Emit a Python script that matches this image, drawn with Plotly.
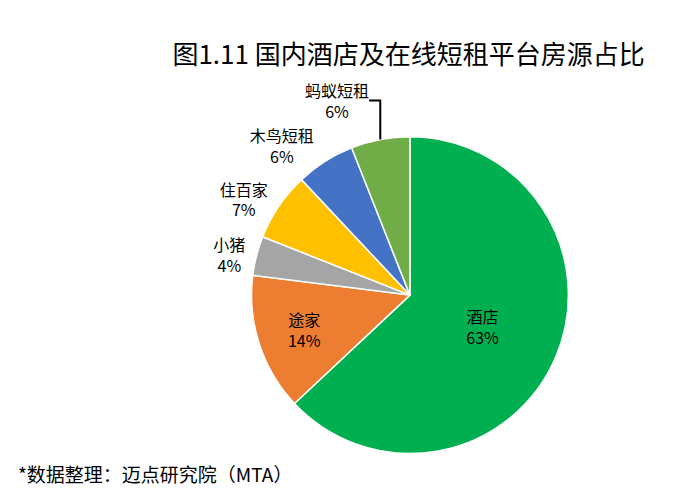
import plotly.graph_objects as go

labels = ["酒店", "途家", "小猪", "住百家", "木鸟短租", "蚂蚁短租"]
values = [63, 14, 4, 7, 6, 6]
colors = ["#00B050", "#ED7D31", "#A5A5A5", "#FFC000", "#4472C4", "#70AD47"]
positions = ["inside", "inside", "outside", "outside", "outside", "outside"]

FONT = "Noto Sans CJK SC"

fig = go.Figure(
    go.Pie(
        labels=labels,
        values=values,
        sort=False,
        direction="clockwise",
        rotation=0,
        marker={"colors": colors, "line": {"color": "white", "width": 1.5}},
        textposition=positions,
        texttemplate="%{label}<br>%{percent:.0%}",
        textfont={"family": FONT, "size": 16, "color": "black"},
        insidetextorientation="horizontal",
        hoverinfo="label+percent",
        showlegend=False,
        domain={"x": [0.28, 0.88], "y": [0.1, 0.74]},
    )
)

fig.update_layout(
    width=693,
    height=495,
    margin={"l": 0, "r": 0, "t": 0, "b": 0},
    paper_bgcolor="white",
    font={"family": FONT},
    title={
        "text": "图1.11 国内酒店及在线短租平台房源占比",
        "x": 0.578,
        "xanchor": "center",
        "y": 0.905,
        "yanchor": "middle",
        "font": {"family": FONT, "size": 26, "color": "black"},
    },
    annotations=[
        {
            "text": "*数据整理：迈点研究院（MTA）",
            "xref": "paper",
            "yref": "paper",
            "x": 0.012,
            "y": 0.06,
            "xanchor": "left",
            "yanchor": "middle",
            "showarrow": False,
            "font": {"family": FONT, "size": 19, "color": "black"},
        }
    ],
)

fig.write_html("out.html")
